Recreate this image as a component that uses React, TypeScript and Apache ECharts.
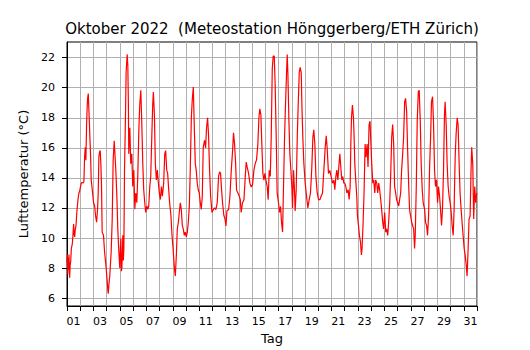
import React, { useEffect, useRef } from "react";
import * as echarts from "echarts";

// Time in days since 1 Oct 2022 00:00 (0 = start of 01, 31 = end of 31)
const sampleDays: number[] = [
  0.0, 0.03, 0.06, 0.08, 0.11, 0.15, 0.2, 0.24, 0.28, 0.33, 0.4, 0.45, 0.5, 0.54, 0.58, 0.63, 0.68, 0.75, 0.83, 0.9,
  0.95, 1.02, 1.08, 1.15, 1.21, 1.28, 1.33, 1.38, 1.43, 1.48, 1.53, 1.56, 1.61, 1.66, 1.7, 1.73, 1.78, 1.83, 1.91, 2.01,
  2.09, 2.16, 2.24, 2.31, 2.36, 2.41, 2.46, 2.51, 2.56, 2.61, 2.66, 2.76, 2.84, 2.96, 3.04, 3.09, 3.12, 3.17, 3.24, 3.34,
  3.42, 3.49, 3.57, 3.62, 3.69, 3.77, 3.84, 3.92, 3.99, 4.03, 4.07, 4.11, 4.15, 4.2, 4.22, 4.26, 4.3, 4.35, 4.42, 4.47,
  4.55, 4.6, 4.64, 4.67, 4.75, 4.82, 4.9, 4.97, 5.05, 5.13, 5.2, 5.28, 5.35, 5.43, 5.5, 5.58, 5.65, 5.73, 5.8, 5.88,
  5.95, 6.03, 6.11, 6.18, 6.26, 6.33, 6.41, 6.48, 6.53, 6.61, 6.68, 6.76, 6.83, 6.91, 6.98, 7.06, 7.14, 7.21, 7.31, 7.39,
  7.46, 7.54, 7.61, 7.69, 7.76, 7.86, 7.94, 8.02, 8.12, 8.19, 8.27, 8.34, 8.42, 8.49, 8.57, 8.64, 8.72, 8.79, 8.87, 8.94,
  9.02, 9.1, 9.17, 9.25, 9.32, 9.4, 9.47, 9.55, 9.62, 9.7, 9.77, 9.85, 9.92, 10.0, 10.08, 10.15, 10.23, 10.3, 10.4, 10.48,
  10.55, 10.63, 10.7, 10.78, 10.86, 10.96, 11.06, 11.16, 11.26, 11.36, 11.46, 11.54, 11.61, 11.69, 11.76, 11.86, 11.94, 12.02, 12.09, 12.22,
  12.32, 12.42, 12.52, 12.59, 12.67, 12.75, 12.82, 12.92, 13.02, 13.1, 13.17, 13.27, 13.38, 13.48, 13.55, 13.63, 13.73, 13.83, 13.93, 14.03,
  14.13, 14.23, 14.33, 14.43, 14.51, 14.58, 14.66, 14.74, 14.81, 14.89, 14.96, 15.04, 15.14, 15.21, 15.29, 15.37, 15.44, 15.52, 15.59, 15.67,
  15.74, 15.82, 15.89, 15.99, 16.07, 16.15, 16.22, 16.3, 16.37, 16.45, 16.52, 16.6, 16.65, 16.7, 16.78, 16.85, 16.93, 17.0, 17.05, 17.13,
  17.2, 17.25, 17.33, 17.41, 17.48, 17.56, 17.63, 17.71, 17.76, 17.83, 17.91, 18.01, 18.11, 18.21, 18.31, 18.41, 18.51, 18.59, 18.66, 18.74,
  18.82, 18.92, 19.02, 19.12, 19.22, 19.32, 19.42, 19.52, 19.6, 19.67, 19.77, 19.87, 19.97, 20.08, 20.18, 20.25, 20.33, 20.4, 20.48, 20.55,
  20.63, 20.7, 20.78, 20.85, 20.93, 21.0, 21.08, 21.16, 21.26, 21.33, 21.41, 21.46, 21.51, 21.58, 21.66, 21.71, 21.76, 21.83, 21.91, 21.96,
  22.04, 22.11, 22.19, 22.26, 22.31, 22.39, 22.46, 22.54, 22.61, 22.69, 22.76, 22.84, 22.91, 22.96, 23.04, 23.12, 23.19, 23.27, 23.34, 23.42,
  23.49, 23.57, 23.64, 23.72, 23.79, 23.87, 23.94, 24.02, 24.1, 24.17, 24.25, 24.32, 24.4, 24.47, 24.55, 24.62, 24.7, 24.77, 24.85, 24.92,
  25.0, 25.08, 25.15, 25.23, 25.3, 25.38, 25.45, 25.53, 25.6, 25.68, 25.75, 25.83, 25.9, 25.98, 26.06, 26.13, 26.21, 26.28, 26.33, 26.41,
  26.48, 26.56, 26.63, 26.71, 26.78, 26.86, 26.93, 27.04, 27.11, 27.19, 27.26, 27.34, 27.41, 27.49, 27.56, 27.64, 27.71, 27.79, 27.86, 27.94,
  28.02, 28.09, 28.17, 28.24, 28.32, 28.39, 28.47, 28.54, 28.59, 28.67, 28.74, 28.82, 28.89, 28.97, 29.05, 29.12, 29.2, 29.27, 29.35, 29.42,
  29.5, 29.57, 29.65, 29.72, 29.8, 29.87, 29.95, 30.03, 30.1, 30.18, 30.25, 30.33, 30.4, 30.48, 30.55, 30.6, 30.68, 30.75, 30.83, 30.9,
  30.98,
];

// Air temperature in °C at each sample time
const tempC: number[] = [
  8.4, 8.9, 7.6, 8.7, 7.9, 8.9, 7.36, 8.2, 8.44, 9.31, 9.6, 10.18, 10.94, 10.3, 10.07, 10.6, 10.83, 11.8, 12.56, 13.0,
  13.1, 13.4, 13.65, 13.7, 13.65, 13.76, 15.38, 16.03, 15.17, 17.55, 18.8, 19.29, 19.61, 18.42, 17.5, 16.69, 15.6, 13.87, 13.21, 12.35,
  12.13, 11.48, 11.05, 11.91, 13.0, 15.38, 15.71, 15.82, 14.95, 13.43, 10.39, 10.18, 9.09, 8.01, 7.14, 6.49, 6.3, 6.92, 7.57, 9.09,
  11.26, 15.17, 16.47, 16.47, 14.52, 12.78, 10.61, 9.09, 8.01, 9.2, 9.96, 7.8, 8.01, 9.5, 10.18, 8.5, 9.31, 14.52, 17.99, 21.02,
  22.22, 21.46, 19.0, 15.6, 17.34, 14.95, 15.6, 13.43, 14.52, 11.91, 13.0, 12.35, 14.08, 17.12, 18.85, 19.83, 17.77, 14.95, 13.21, 12.35,
  11.7, 12.13, 11.91, 12.13, 13.43, 14.08, 16.69, 18.85, 19.72, 18.2, 14.95, 13.87, 14.52, 13.65, 13.0, 12.56, 13.43, 12.78, 13.65, 15.6,
  15.82, 14.52, 14.3, 13.21, 12.35, 11.48, 10.18, 9.31, 8.01, 7.47, 8.9, 10.61, 11.05, 11.7, 12.35, 11.91, 10.83, 10.61, 10.18, 10.39,
  10.07, 10.39, 11.05, 12.13, 14.52, 17.99, 19.18, 20.05, 17.55, 14.95, 14.52, 13.65, 13.21, 13.0, 12.35, 11.91, 12.78, 16.03, 16.5, 16.0,
  17.3, 18.0, 16.9, 14.5, 12.8, 11.7, 11.9, 12.0, 11.9, 12.35, 14.1, 14.4, 14.3, 13.2, 12.35, 11.5, 11.3, 10.8, 11.8, 11.9,
  12.8, 14.5, 15.8, 17.0, 16.25, 14.95, 13.2, 13.0, 12.8, 12.55, 11.7, 12.35, 12.55, 14.1, 15.05, 14.7, 14.3, 13.65, 13.4, 13.55,
  14.5, 14.95, 15.2, 16.25, 18.0, 18.6, 18.2, 16.0, 14.3, 13.85, 14.3, 13.85, 13.4, 12.55, 14.5, 14.1, 16.7, 21.25, 22.1, 22.1,
  20.15, 16.7, 13.0, 12.35, 11.7, 12.1, 11.05, 10.4, 13.4, 16.7, 18.85, 21.0, 22.2, 21.0, 17.75, 15.6, 14.5, 13.4, 12.0, 14.5,
  13.2, 11.8, 13.2, 16.7, 18.85, 21.0, 21.35, 21.0, 18.85, 16.7, 14.95, 13.65, 12.8, 12.0, 12.55, 13.0, 14.7, 16.7, 17.2, 16.25,
  14.1, 13.0, 12.55, 12.55, 12.8, 13.0, 14.5, 16.0, 16.8, 16.0, 14.3, 14.5, 14.1, 13.65, 13.85, 13.21, 14.08, 14.52, 13.87, 14.73,
  15.6, 14.73, 13.87, 14.08, 13.65, 13.65, 13.43, 13.0, 13.21, 12.56, 13.43, 16.25, 17.99, 18.85, 17.99, 16.69, 14.95, 13.87, 12.78, 11.48,
  10.83, 10.18, 9.74, 8.88, 9.31, 11.05, 13.0, 16.25, 15.38, 16.25, 14.73, 17.55, 17.77, 16.69, 14.95, 13.65, 13.87, 13.0, 13.87, 13.65,
  13.0, 13.65, 13.21, 12.56, 11.91, 11.05, 10.61, 11.7, 10.39, 10.61, 10.18, 11.05, 12.35, 14.08, 16.69, 17.55, 16.25, 13.43, 13.0, 12.56,
  12.35, 12.13, 12.56, 13.0, 14.52, 15.6, 16.69, 19.07, 19.29, 18.42, 16.03, 13.65, 11.91, 11.48, 11.05, 10.83, 10.61, 9.31, 10.18, 13.43,
  17.77, 19.72, 19.83, 17.77, 14.95, 13.21, 12.35, 11.91, 11.05, 10.83, 10.18, 11.48, 14.52, 16.69, 19.07, 19.4, 17.77, 14.52, 13.43, 13.87,
  12.35, 13.43, 12.78, 11.91, 10.83, 11.91, 14.52, 18.2, 19.07, 17.55, 14.95, 13.43, 12.78, 12.35, 11.7, 10.83, 10.18, 11.91, 15.38, 16.91,
  17.99, 17.55, 14.95, 13.0, 11.91, 11.05, 10.18, 9.31, 8.88, 8.23, 7.47, 9.31, 11.26, 11.48, 14.52, 16.03, 14.95, 11.26, 13.43, 12.35,
  13.0,
];

const dayLabels: string[] = [
  "01", "03", "05", "07", "09", "11", "13", "15", "17", "19", "21", "23", "25", "27", "29", "31",
];
const tempTicks: number[] = [6, 8, 10, 12, 14, 16, 18, 20, 22];

const titleText = "Oktober 2022  (Meteostation Hönggerberg/ETH Zürich)";
const yName = "Lufttemperatur (°C)";
const xName = "Tag";

const FONT = "DejaVu Sans";

export default function App() {
  const ref = useRef<HTMLDivElement>(null);

  useEffect(() => {
    if (!ref.current) return;
    const chart = echarts.init(ref.current, undefined, { renderer: "svg" });
    const labelPos = dayLabels.map((s) => Number(s) - 0.5);
    const data = sampleDays.map((d, i) => [d, tempC[i]]);

    chart.setOption({
      animation: false,
      backgroundColor: "#ffffff",
      graphic: [
        {
          type: "text",
          x: 272,
          y: 29,
          style: {
            text: titleText,
            fill: "#000",
            font: `15px "${FONT}"`,
            textAlign: "center",
            textVerticalAlign: "middle",
          },
        },
      ],
      grid: {
        left: 67,
        top: 42,
        width: 410,
        height: 270,
        show: true,
        borderColor: "#000",
        borderWidth: 1,
        backgroundColor: "transparent",
        containLabel: false,
      },
      xAxis: {
        type: "value",
        min: 0,
        max: 31,
        interval: 1,
        name: xName,
        nameLocation: "middle",
        nameGap: 26,
        nameTextStyle: { fontFamily: FONT, fontSize: 13, color: "#000" },
        axisLine: { show: true, onZero: false, lineStyle: { color: "#000", width: 1 } },
        axisTick: { show: true, length: 5, lineStyle: { color: "#000", width: 1 } },
        axisLabel: {
          customValues: labelPos,
          formatter: (v: number) => {
            const idx = labelPos.findIndex((p) => Math.abs(p - v) < 1e-6);
            return idx >= 0 ? dayLabels[idx] : "";
          },
          margin: 10,
          fontFamily: FONT,
          fontSize: 11,
          color: "#000",
        },
        splitLine: { show: true, lineStyle: { color: "#b0b0b0", width: 1 } },
      },
      yAxis: {
        type: "value",
        min: 5.48,
        max: 23.04,
        name: yName,
        nameLocation: "middle",
        nameGap: 31,
        nameRotate: 90,
        nameTextStyle: { fontFamily: FONT, fontSize: 13, color: "#000" },
        axisLine: { show: true, onZero: false, lineStyle: { color: "#000", width: 1 } },
        axisTick: {
          show: true,
          length: 5,
          customValues: tempTicks,
          lineStyle: { color: "#000", width: 1 },
        },
        axisLabel: {
          customValues: tempTicks,
          formatter: (v: number) => String(v),
          margin: 12,
          fontFamily: FONT,
          fontSize: 11,
          color: "#000",
        },
        splitLine: { show: true, lineStyle: { color: "#b0b0b0", width: 1 } },
      },
      series: [
        {
          type: "line",
          data,
          showSymbol: false,
          symbol: "none",
          clip: true,
          lineStyle: { color: "#ff0000", width: 1.2 },
          itemStyle: { color: "#ff0000" },
          z: 5,
        },
      ],
    });

    return () => chart.dispose();
  }, []);

  return (
    <div
      ref={ref}
      style={{ position: "fixed", left: 0, top: 0, width: 530, height: 350, background: "#fff" }}
    />
  );
}
